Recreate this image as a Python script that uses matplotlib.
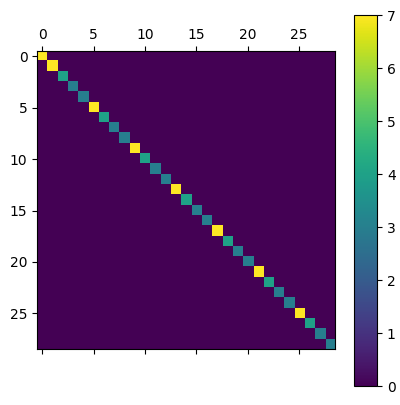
import numpy as np
import matplotlib
matplotlib.use("Agg")
import matplotlib.pyplot as plt

n = 29
diag_values = [7, 7, 4, 3, 3, 7, 4, 3, 3, 7, 4, 3, 3, 7, 4, 3, 3, 7, 4, 3, 3,
               7, 4, 3, 3, 7, 4, 3, 3]

mat = np.diag(diag_values)

fig = plt.figure(figsize=(4.0, 4.05), dpi=100)
ax = fig.add_axes([0.0917, 0.1375, 0.7475, 0.736])
im = ax.matshow(mat, cmap='viridis')
ax.set_xticks([0, 5, 10, 15, 20, 25])
ax.set_yticks([0, 5, 10, 15, 20, 25])
cax = fig.add_axes([0.886, 0.046, 0.057, 0.916])
fig.colorbar(im, cax=cax)
fig.savefig("out.png", dpi=100)
